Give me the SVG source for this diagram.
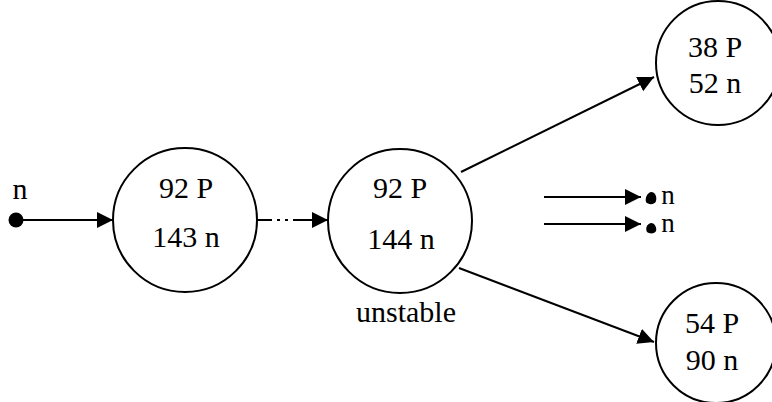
<svg xmlns="http://www.w3.org/2000/svg" width="772" height="402" viewBox="0 0 772 402">
  <style>
    .node { fill: #fff; stroke: #000; stroke-width: 2; }
    .lbl { font-size: 30px; fill: #000; text-anchor: middle; }
    .sm { font-size: 27px; fill: #000; text-anchor: middle; }
    .edge { stroke: #000; stroke-width: 2; fill: none; }
  </style>
  <defs>
    <marker id="arrow" markerWidth="18" markerHeight="18" refX="16" refY="8" orient="auto" markerUnits="userSpaceOnUse">
      <path d="M0,0 L16,8 L0,16 Z" fill="#000"/>
    </marker>
  </defs>

  <g id="connectors">
    <!-- incoming neutron -->
    <circle cx="16" cy="220" r="7.5" fill="#000"/>
    <line class="edge" x1="16" y1="220" x2="113" y2="220" marker-end="url(#arrow)"/>
    <!-- 143n -> 144n (dash-dot-dot) -->
    <line class="edge" x1="257" y1="220" x2="328" y2="220" stroke-dasharray="15 5 3 5 3 5 40" marker-end="url(#arrow)"/>
    <!-- fission products -->
    <line class="edge" x1="461" y1="172" x2="654" y2="77" marker-end="url(#arrow)"/>
    <line class="edge" x1="459" y1="268" x2="654" y2="342" marker-end="url(#arrow)"/>
    <!-- released neutrons -->
    <line class="edge" x1="544" y1="197" x2="641" y2="197" marker-end="url(#arrow)"/>
    <line class="edge" x1="544" y1="224" x2="641" y2="224" marker-end="url(#arrow)"/>
  </g>

  <g font-family="'Liberation Serif', 'Times New Roman', Times, serif">
    <g id="n-in">
      <text class="lbl" x="20" y="199">n</text>
    </g>

    <g id="u235">
      <circle class="node" cx="185" cy="220" r="72"/>
      <text class="lbl" x="186" y="198">92 P</text>
      <text class="lbl" x="186" y="247">143 n</text>
    </g>

    <g id="u236">
      <circle class="node" cx="400" cy="221" r="72"/>
      <text class="lbl" x="400" y="198">92 P</text>
      <text class="lbl" x="401" y="249">144 n</text>
      <text class="lbl" x="406" y="322">unstable</text>
    </g>

    <g id="sr90">
      <circle class="node" cx="718" cy="63" r="62"/>
      <text class="lbl" x="715" y="57">38 P</text>
      <text class="lbl" x="715" y="93">52 n</text>
    </g>

    <g id="xe144">
      <circle class="node" cx="716" cy="343" r="60"/>
      <text class="lbl" x="712" y="333">54 P</text>
      <text class="lbl" x="712" y="370">90 n</text>
    </g>

    <!-- released neutrons: small teardrop particles -->
    <g id="n-out-1">
      <path d="M651,192 C656,192 657,198 656,201 C655,205 648,205 646,202 C645,198 647,193 651,192 Z" fill="#000"/>
      <text class="sm" x="668" y="204">n</text>
    </g>

    <g id="n-out-2">
      <path d="M651,223 C655,223 657,228 656,231 C655,234 649,234 647,232 C645,228 647,224 651,223 Z" fill="#000"/>
      <text class="sm" x="668" y="232">n</text>
    </g>
  </g>
</svg>
